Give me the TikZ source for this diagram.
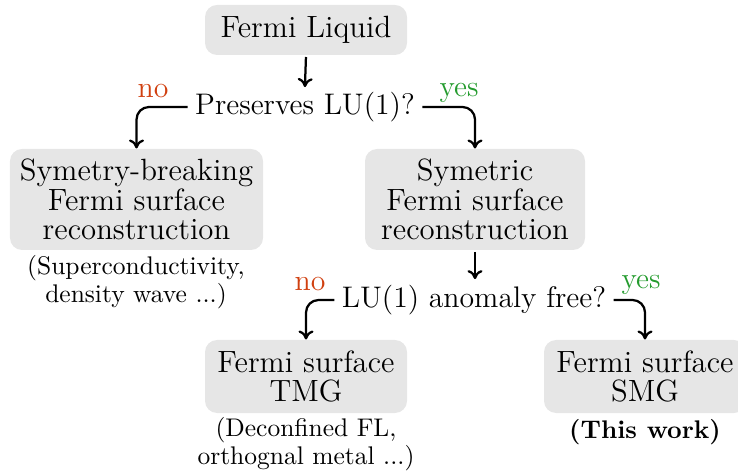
\documentclass[tikz,border=0pt]{standalone}
\usetikzlibrary{arrows.meta}
\definecolor{boxgray}{RGB}{230,230,230}
\definecolor{nored}{RGB}{208,64,16}
\definecolor{yesgreen}{RGB}{36,155,46}
\begin{document}
\begin{tikzpicture}[x=0.4pt,y=-0.4pt,
  box/.style={fill=boxgray,rounded corners=4.8pt,align=center,inner sep=0pt,
    font=\fontsize{12.3}{11.8}\selectfont},
  ques/.style={align=center,inner sep=2.8pt,font=\fontsize{11.9}{11.8}\selectfont},
  note/.style={align=center,inner sep=0pt,font=\fontsize{10.2}{9.6}\selectfont},
  arr/.style={-{To[length=3.6pt,width=6pt]},line width=0.9pt,rounded corners=5pt},
  lab/.style={inner sep=0pt,font=\fontsize{11.9}{11.8}\selectfont}]
\useasboundingbox (0,0) rectangle (738,471);
\node[box,minimum width=80.8pt,minimum height=20pt] (fl) at (306,30) {Fermi Liquid};
\node[ques] (q1) at (305,107) {Preserves LU(1)?};
\node[box,minimum width=101.2pt,minimum height=40.4pt] (sb) at (136.5,199.5) {Symetry-breaking\\Fermi surface\\reconstruction};
\node[box,minimum width=88pt,minimum height=40.4pt] (sy) at (475,199.5) {Symetric\\Fermi surface\\reconstruction};
\node[note] (sbn) at (136,282) {(Superconductivity,\\density wave ...)};
\node[ques] (q2) at (474,300) {LU(1) anomaly free?};
\node[box,minimum width=80.8pt,minimum height=29.2pt] (tmg) at (306,376.5) {Fermi surface\\TMG};
\node[box,minimum width=80.8pt,minimum height=29.2pt] (smg) at (645,376.5) {Fermi surface\\SMG};
\node[note] (tmgn) at (306,444) {(Deconfined FL,\\orthognal metal ...)};
\node[note,font=\fontsize{10.2}{9.6}\selectfont\bfseries] (tw) at (645,432) {(This work)};
\node[lab,text=nored] (no1) at (153,91) {no};
\node[lab,text=yesgreen] (yes1) at (459,93) {yes};
\node[lab,text=nored] (no2) at (310,284) {no};
\node[lab,text=yesgreen] (yes2) at (641,285) {yes};
\draw[arr,shorten <=0.6pt,shorten >=-1pt] (fl.south) -- (q1.north);
\draw[arr] (q1.west) -| (sb.north);
\draw[arr] (q1.east) -| (sy.north);
\draw[arr,shorten <=0.6pt,shorten >=-0.6pt] (sy.south) -- (sy.south |- q2.north);
\draw[arr] (q2.west) -| (tmg.north);
\draw[arr] (q2.east) -| (smg.north);
\end{tikzpicture}
\end{document}
